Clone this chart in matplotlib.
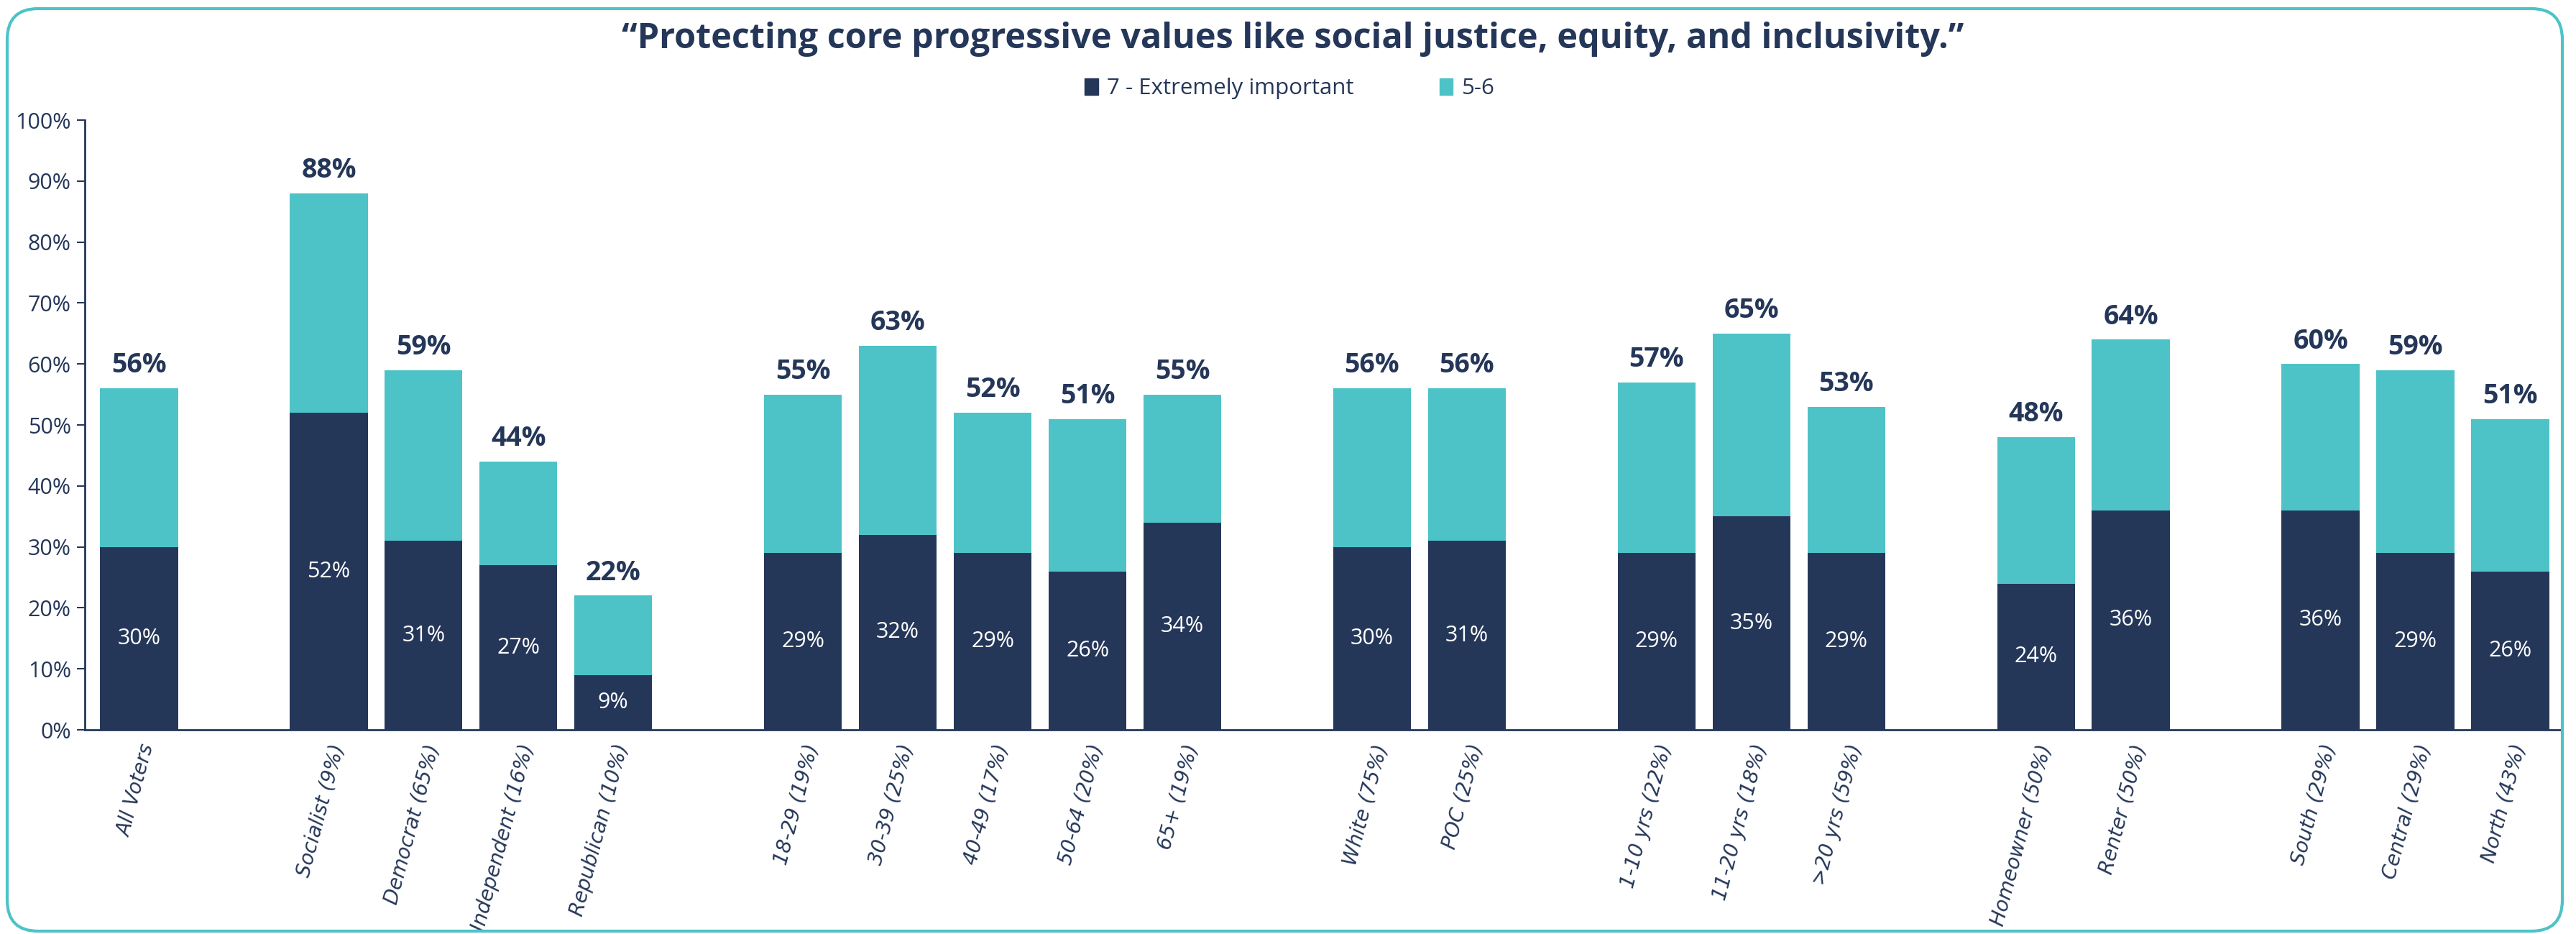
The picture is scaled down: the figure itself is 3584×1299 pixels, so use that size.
#!/usr/bin/env python3
import matplotlib
matplotlib.use("Agg")
import matplotlib.pyplot as plt
from matplotlib.patches import FancyBboxPatch

plt.rcParams["font.family"] = ["Open Sans", "DejaVu Sans"]

NAVY = "#253759"
TEAL = "#4DC3C8"

# blank strings are the spacer slots between groups
LABELS = [
    "All Voters", "",
    "Socialist (9%)", "Democrat (65%)", "Independent (16%)", "Republican (10%)", "",
    "18-29 (19%)", "30-39 (25%)", "40-49 (17%)", "50-64 (20%)", "65+ (19%)", "",
    "White (75%)", "POC (25%)", "",
    "1-10 yrs (22%)", "11-20 yrs (18%)", ">20 yrs (59%)", "",
    "Homeowner (50%)", "Renter (50%)", "",
    "South (29%)", "Central (29%)", "North (43%)",
]
EXTREMELY = [30, None, 52, 31, 27, 9, None, 29, 32, 29, 26, 34, None,
             30, 31, None, 29, 35, 29, None, 24, 36, None, 36, 29, 26]
TOTAL = [56, None, 88, 59, 44, 22, None, 55, 63, 52, 51, 55, None,
         56, 56, None, 57, 65, 53, None, 48, 64, None, 60, 59, 51]


def main() -> int:
    fig = plt.figure(figsize=(35.84, 12.99), dpi=100)
    ax = fig.add_axes([0.033, 0.2186, 0.9617, 0.6528])

    xs = list(range(len(LABELS)))
    width = 0.82
    for x, lo, tot in zip(xs, EXTREMELY, TOTAL):
        if lo is None:
            continue
        ax.bar(x, lo, width=width, color=NAVY)
        ax.bar(x, tot - lo, bottom=lo, width=width, color=TEAL)
        ax.text(x, lo / 2, f"{lo}%", ha="center", va="center",
                color="white", fontsize=22)
        ax.text(x, tot + 1.5, f"{tot}%", ha="center", va="bottom",
                color=NAVY, fontsize=27, fontweight="bold")

    ax.set_xlim(-0.57, 25.55)
    ax.set_ylim(0, 100)
    ax.set_yticks(range(0, 101, 10))
    ax.set_yticklabels([f"{v}%" for v in range(0, 101, 10)],
                       fontsize=22, color=NAVY)
    ax.set_xticks(xs)
    ax.set_xticklabels(LABELS, rotation=75, ha="right", rotation_mode="anchor",
                       fontsize=20, style="italic", color=NAVY,
                       family="DejaVu Sans")
    ax.tick_params(axis="x", length=0, pad=12)
    ax.tick_params(axis="y", length=8, width=1.5, color=NAVY, pad=6)
    for side in ("top", "right"):
        ax.spines[side].set_visible(False)
    for side in ("left", "bottom"):
        ax.spines[side].set_color(NAVY)
        ax.spines[side].set_linewidth(2)

    fig.text(0.502, 0.958,
             "\u201cProtecting core progressive values like social justice, "
             "equity, and inclusivity.\u201d",
             ha="center", va="center", fontsize=35, fontweight="bold",
             color=NAVY)

    handles = [plt.Rectangle((0, 0), 1, 1, color=NAVY),
               plt.Rectangle((0, 0), 1, 1, color=TEAL)]
    fig.legend(handles, ["7 - Extremely important", "5-6"],
               loc="center", bbox_to_anchor=(0.5007, 0.905), ncol=2,
               frameon=False, fontsize=22.5, handlelength=0.6,
               handleheight=0.8, handletextpad=0.4, columnspacing=3.8,
               labelcolor=NAVY)

    border = FancyBboxPatch((10 / 3584, 4 / 1299), 3555 / 3584, 1283 / 1299,
                            boxstyle="round,pad=0,rounding_size=0.012",
                            transform=fig.transFigure, fill=False,
                            edgecolor=TEAL, linewidth=3, mutation_aspect=3584 / 1299)
    fig.patches.append(border)

    fig.savefig("out.png", dpi=100)
    plt.close(fig)
    return 0


if __name__ == "__main__":
    raise SystemExit(main())
